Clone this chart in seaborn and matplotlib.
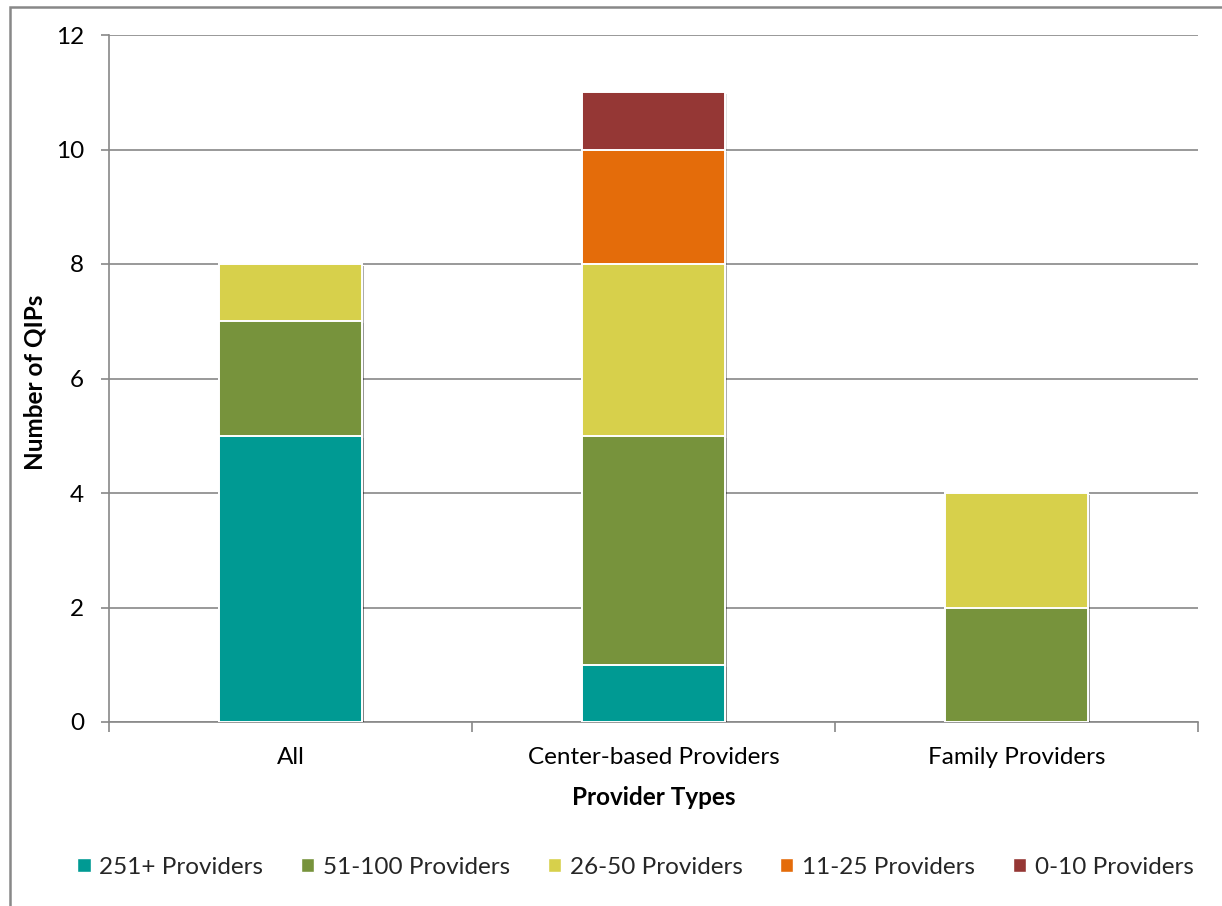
import matplotlib
matplotlib.use("Agg")
import matplotlib.pyplot as plt
import matplotlib.patches as mpatches
import matplotlib.patheffects as pe
import numpy as np
import pandas as pd
import seaborn as sns

# Provider types on the x axis
provider_types = ["All", "Center-based Providers", "Family Providers"]

# Number of QIPs per size band (stacked bottom to top)
size_bands = ["251+ Providers", "51-100 Providers", "26-50 Providers",
              "11-25 Providers", "0-10 Providers"]
qips_251_plus = [5, 1, 0]
qips_51_100 = [2, 4, 2]
qips_26_50 = [1, 3, 2]
qips_11_25 = [0, 2, 0]
qips_0_10 = [0, 1, 0]

band_colors = ["#009A93", "#77933C", "#D7D04B", "#E46C0A", "#953735"]

y_ticks = [0, 2, 4, 6, 8, 10, 12]

series = [qips_251_plus, qips_51_100, qips_26_50, qips_11_25, qips_0_10]

sns.set_theme(style="white")
plt.rcParams["font.family"] = ["Lato", "DejaVu Sans"]

FS = 17.5

fig = plt.figure(figsize=(12.22, 9.06), dpi=100)
W, H = 1222, 906
ax = fig.add_axes([109 / W, 1 - 722 / H, (1198 - 109) / W, (722 - 35) / H])

grid_c = "#888888"

# cumulative totals so each band sits on top of the ones below
cum = np.cumsum(np.array(series, dtype=float), axis=0)
df = pd.DataFrame(cum.T, columns=size_bands)
df["type"] = provider_types

shadow = [pe.SimplePatchShadow(offset=(1.5, -1.5), shadow_rgbFace="#000000", alpha=0.12),
          pe.Normal()]

# draw the tallest cumulative layer first, lower layers on top
for i in range(len(size_bands) - 1, -1, -1):
    sns.barplot(data=df, x="type", y=size_bands[i], color=band_colors[i],
                width=0.395, edgecolor="white", linewidth=1.4, ax=ax,
                saturation=1, order=provider_types, zorder=3)

# remove empty bars (zero segments) and add soft shadow
for p in list(ax.patches):
    if p.get_height() <= 0:
        p.remove()
    else:
        p.set_path_effects(shadow)

ax.set_ylim(0, 12)
ax.set_xlim(-0.5, 2.5)
ax.set_yticks(y_ticks)
ax.set_yticklabels([str(t) for t in y_ticks])
ax.yaxis.grid(True, color=grid_c, linewidth=1.2, zorder=0)
ax.set_axisbelow(True)

for s in ["top", "right"]:
    ax.spines[s].set_visible(False)
for s in ["left", "bottom"]:
    ax.spines[s].set_color(grid_c)
    ax.spines[s].set_linewidth(1.2)

# category boundary ticks on the x axis
ax.set_xticks([0, 1, 2])
ax.set_xticklabels(provider_types, fontsize=FS, color="#000000")
ax.tick_params(axis="x", length=0, pad=18)
ax.set_xticks([-0.5, 0.5, 1.5, 2.5], minor=True)
ax.tick_params(axis="x", which="minor", length=7, width=1.2, color=grid_c, direction="out", bottom=True)
ax.tick_params(axis="y", length=6, width=1.2, color=grid_c, direction="out", left=True,
               labelsize=FS, labelcolor="#000000", pad=12)

ax.set_xlabel("Provider Types", fontsize=FS, fontweight="bold", labelpad=13, color="#000000")
ax.set_ylabel("")
fig.text(35 / W, 1 - 382 / H, "Number of QIPs", rotation=90, ha="center", va="center",
         fontsize=FS, fontweight="bold", color="#000000")

handles = [mpatches.Patch(facecolor=c, edgecolor="white", label=l)
           for c, l in zip(band_colors, size_bands)]
fig.legend(handles=handles, loc="center", bbox_to_anchor=(0.52, 1 - 867 / H),
           ncol=5, frameon=False, fontsize=FS, handlelength=0.55, handleheight=0.55,
           handletextpad=0.35, columnspacing=1.55)

# outer chart border (left and top edges visible)
fig.patches.append(mpatches.Rectangle((9.5 / W, -0.01), 1.1, 1 - 6.5 / H + 0.01,
                                      transform=fig.transFigure, fill=False,
                                      edgecolor=grid_c, linewidth=1.8))

fig.savefig("out.png", dpi=100)
